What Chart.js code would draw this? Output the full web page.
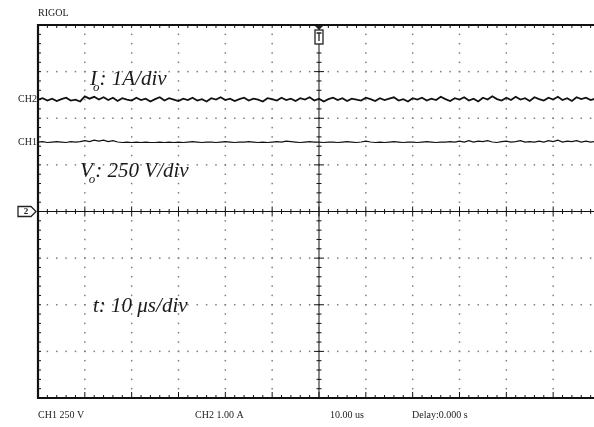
<!DOCTYPE html>
<html>
<head>
<meta charset="utf-8">
<script src="https://cdn.jsdelivr.net/npm/chart.js@4.4.1/dist/chart.umd.min.js"></script>
<style>
  html, body { margin: 0; padding: 0; background: #fff; overflow: hidden; }
  #wrap { width: 594px; height: 427px; position: relative; }
</style>
</head>
<body>
<div id="wrap"><canvas id="scope"></canvas></div>
<script>
// screen: 12 x 8 divisions, x in us (10 us/div), y in divisions
const timeStartUs = -60;
const timeStepUs = 1;
const ch2Div = [
  2.40,2.43,2.38,2.42,2.37,2.41,2.44,2.38,2.40,2.36,
  2.47,2.42,2.46,2.40,2.45,2.39,2.44,2.37,2.43,2.40,
  2.38,2.44,2.39,2.42,2.36,2.41,2.45,2.38,2.43,2.40,
  2.37,2.42,2.39,2.44,2.38,2.41,2.36,2.43,2.40,2.45,
  2.39,2.42,2.37,2.41,2.44,2.38,2.42,2.40,2.36,2.43,
  2.41,2.38,2.44,2.39,2.42,2.37,2.43,2.40,2.45,2.38,
  2.42,2.36,2.41,2.44,2.39,2.43,2.37,2.42,2.40,2.38,
  2.44,2.41,2.37,2.43,2.39,2.42,2.45,2.38,2.41,2.36,
  2.43,2.40,2.44,2.38,2.42,2.39,2.46,2.41,2.37,2.43,
  2.40,2.45,2.38,2.42,2.36,2.44,2.40,2.47,2.41,2.38,
  2.44,2.39,2.46,2.40,2.43,2.37,2.45,2.41,2.38,2.44,
  2.40,2.46,2.39,2.43,2.37,2.45,2.41,2.44,2.39,2.42
];
const ch1Div = [
  1.49,1.50,1.48,1.49,1.50,1.49,1.48,1.50,1.49,1.50,
  1.52,1.50,1.53,1.51,1.53,1.50,1.52,1.49,1.48,1.49,
  1.48,1.49,1.48,1.49,1.48,1.48,1.49,1.48,1.49,1.48,
  1.49,1.48,1.49,1.50,1.49,1.48,1.49,1.49,1.48,1.49,
  1.50,1.49,1.48,1.49,1.49,1.50,1.49,1.48,1.49,1.48,
  1.49,1.50,1.49,1.51,1.50,1.49,1.48,1.49,1.50,1.49,
  1.49,1.48,1.49,1.49,1.48,1.49,1.50,1.49,1.48,1.49,
  1.51,1.49,1.48,1.49,1.48,1.49,1.50,1.49,1.48,1.49,
  1.49,1.48,1.49,1.50,1.49,1.48,1.49,1.49,1.50,1.49,
  1.51,1.49,1.52,1.49,1.51,1.50,1.52,1.49,1.48,1.50,
  1.51,1.49,1.50,1.52,1.49,1.50,1.49,1.51,1.49,1.52,
  1.50,1.53,1.49,1.51,1.50,1.52,1.49,1.51,1.49,1.50
];
const channelMarkers = ['CH2', 'CH1'];
const channelLevels = [2.41, 1.49];
const bottomLabels = ['CH1 250 V', 'CH2 1.00 A', '10.00 us', 'Delay:0.000 s'];

const toPoints = (vals) => vals.map((v, i) => ({ x: timeStartUs + i * timeStepUs, y: v }));

const serif = '"Liberation Serif", "DejaVu Serif", serif';

const graticule = {
  id: 'graticule',
  beforeDatasetsDraw(chart) {
    const { ctx, chartArea: { left, right, top, bottom }, scales: { x, y } } = chart;
    const xDiv = 10, sub = 5;
    ctx.save();
    // dotted grid
    ctx.fillStyle = '#7e7e7e';
    for (let k = -5; k <= 5; k++) {
      if (k === 0) continue;
      const px = x.getPixelForValue(k * xDiv);
      for (let j = -4 * sub + 1; j < 4 * sub; j++) {
        ctx.fillRect(px - 0.75, y.getPixelForValue(j / sub) - 0.75, 1.5, 1.5);
      }
    }
    for (let k = -3; k <= 3; k++) {
      if (k === 0) continue;
      const py = y.getPixelForValue(k);
      for (let j = -6 * sub + 1; j < 6 * sub; j++) {
        const px = x.getPixelForValue(j * xDiv / sub);
        if (px > right) break;
        ctx.fillRect(px - 0.75, py - 0.75, 1.5, 1.5);
      }
    }
    // centre lines with ticks
    const cx = x.getPixelForValue(0), cy = y.getPixelForValue(0);
    ctx.strokeStyle = '#111';
    ctx.lineWidth = 1;
    ctx.beginPath();
    ctx.moveTo(left, cy); ctx.lineTo(right, cy);
    ctx.moveTo(cx, top); ctx.lineTo(cx, bottom);
    for (let j = -6 * sub; j <= 6 * sub; j++) {
      const px = x.getPixelForValue(j * xDiv / sub);
      if (px > right) break;
      const h = j % sub === 0 ? 5 : 2.5;
      ctx.moveTo(px, cy - h); ctx.lineTo(px, cy + h);
      // bottom and top border ticks
      const hb = j % sub === 0 ? 6 : 3;
      ctx.moveTo(px, bottom); ctx.lineTo(px, bottom - hb);
      ctx.moveTo(px, top); ctx.lineTo(px, top + 3);
    }
    for (let j = -4 * sub; j <= 4 * sub; j++) {
      const py = y.getPixelForValue(j / sub);
      const h = j % sub === 0 ? 5 : 2.5;
      ctx.moveTo(cx - h, py); ctx.lineTo(cx + h, py);
      ctx.moveTo(left, py); ctx.lineTo(left + 3, py);
    }
    ctx.stroke();
    // border
    ctx.lineWidth = 2.2;
    ctx.beginPath();
    ctx.moveTo(right + 2, top); ctx.lineTo(left, top); ctx.lineTo(left, bottom); ctx.lineTo(right + 2, bottom);
    ctx.stroke();
    ctx.restore();
  },
  afterDraw(chart) {
    const { ctx, chartArea: { left, top }, scales: { x, y } } = chart;
    ctx.save();
    ctx.fillStyle = '#222';
    ctx.textBaseline = 'middle';
    ctx.font = '10px ' + serif;
    ctx.fillText('RIGOL', 38, 13);
    ctx.textAlign = 'right';
    channelMarkers.forEach((m, i) => ctx.fillText(m, left - 1, y.getPixelForValue(channelLevels[i])));
    ctx.textAlign = 'left';
    const bx = [38, 195, 330, 412];
    bottomLabels.forEach((t, i) => ctx.fillText(t, bx[i], 415));

    // ground marker on the left
    const gy = y.getPixelForValue(0);
    ctx.strokeStyle = '#222';
    ctx.lineWidth = 1.3;
    ctx.beginPath();
    ctx.moveTo(18, gy - 5); ctx.lineTo(31, gy - 5); ctx.lineTo(36, gy);
    ctx.lineTo(31, gy + 5); ctx.lineTo(18, gy + 5); ctx.closePath();
    ctx.stroke();
    ctx.font = 'bold 9px ' + serif;
    ctx.textAlign = 'center';
    ctx.fillText('2', 26, gy + 0.5);

    // trigger position marker on top
    const tx = x.getPixelForValue(0);
    ctx.fillStyle = '#fff';
    ctx.fillRect(tx - 4, top + 5, 8, 14);
    ctx.strokeRect(tx - 4, top + 5, 8, 14);
    ctx.beginPath();
    ctx.moveTo(tx - 4, top + 1); ctx.lineTo(tx + 4, top + 1); ctx.lineTo(tx, top + 5); ctx.closePath();
    ctx.fillStyle = '#222'; ctx.fill();
    ctx.beginPath();
    ctx.moveTo(tx - 2.5, top + 8); ctx.lineTo(tx + 2.5, top + 8);
    ctx.moveTo(tx, top + 8); ctx.lineTo(tx, top + 16);
    ctx.stroke();

    // annotations
    const note = (x0, yb, main, subTxt, rest) => {
      ctx.textAlign = 'left';
      ctx.textBaseline = 'alphabetic';
      ctx.fillStyle = '#1a1a1a';
      ctx.font = 'italic 21px ' + serif;
      ctx.fillText(main, x0, yb);
      let w = ctx.measureText(main).width;
      if (subTxt) {
        ctx.font = 'italic 13px ' + serif;
        ctx.fillText(subTxt, x0 + w - 4, yb + 6);
        w += ctx.measureText(subTxt).width - 4;
        ctx.font = 'italic 21px ' + serif;
      }
      ctx.fillText(rest, x0 + w, yb);
    };
    note(90, 85, 'I', 'o', ': 1A/div');
    note(80, 177, 'V', 'o', ': 250 V/div');
    note(93, 312, 't', '', ': 10 \u03bcs/div');
    ctx.restore();
  }
};

new Chart(document.getElementById('scope'), {
  type: 'line',
  data: {
    datasets: [
      { label: 'CH2', data: toPoints(ch2Div), borderColor: '#111', borderWidth: 1.8, pointRadius: 0, tension: 0 },
      { label: 'CH1', data: toPoints(ch1Div), borderColor: '#111', borderWidth: 1.2, pointRadius: 0, tension: 0 }
    ]
  },
  options: {
    responsive: true,
    maintainAspectRatio: false,
    animation: false,
    layout: { padding: { left: 38, top: 25, right: 0, bottom: 29 } },
    plugins: { legend: { display: false }, tooltip: { enabled: false } },
    scales: {
      x: { type: 'linear', min: -60, max: 58.72, display: false },
      y: { type: 'linear', min: -4, max: 4, display: false }
    }
  },
  plugins: [graticule]
});
</script>
</body>
</html>
